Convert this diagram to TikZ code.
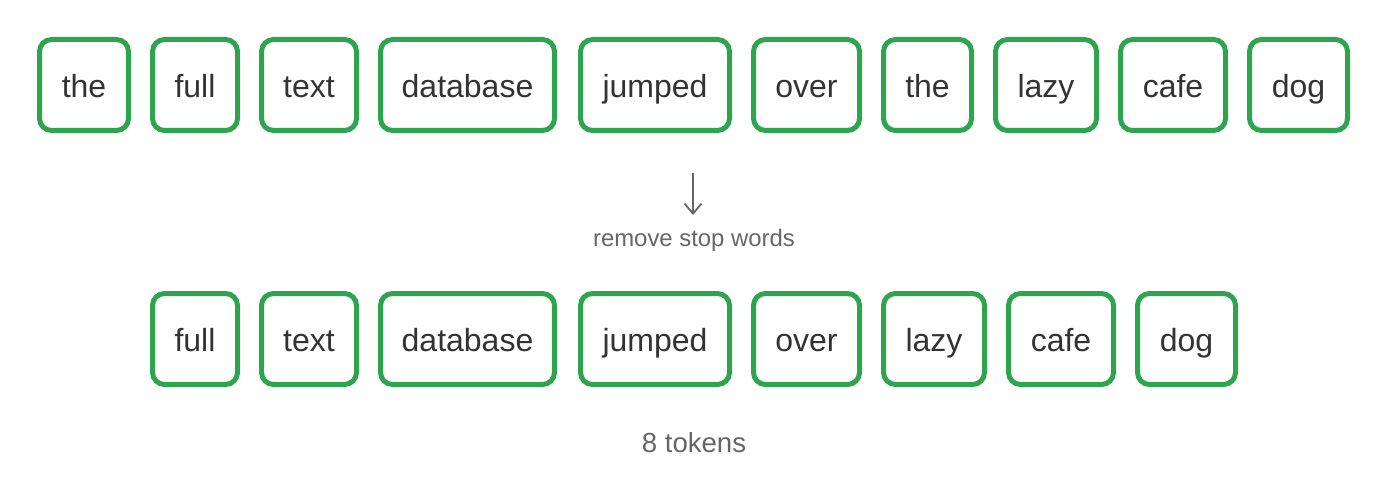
\documentclass[tikz,border=0pt]{standalone}
\usepackage{fontspec}
\setmainfont{Liberation Sans}
\usetikzlibrary{arrows.meta}
\definecolor{tokgreen}{RGB}{46,164,79}
\definecolor{tokink}{RGB}{51,51,51}
\definecolor{notegray}{RGB}{102,102,102}
\tikzset{
  tok/.style={draw=tokgreen, line width=5pt, rounded corners=12pt, fill=white,
    minimum height=91pt, inner sep=0pt, text=tokink,
    text height=25pt, text depth=0pt,
    font=\fontsize{32}{38}\selectfont},
  note/.style={text=notegray, inner sep=0pt, anchor=base},
}
\begin{document}
\begin{tikzpicture}[x=1pt,y=-1pt]
  \useasboundingbox (0,0) rectangle (1392,484);
  % input tokens
  \node[tok, minimum width=89pt]  (a1)  at (84,85)     {the};
  \node[tok, minimum width=85pt]  (a2)  at (195,85)    {full};
  \node[tok, minimum width=95pt]  (a3)  at (309,85)    {text};
  \node[tok, minimum width=174pt] (a4)  at (467.5,85)  {database};
  \node[tok, minimum width=149pt] (a5)  at (655,85)    {jumped};
  \node[tok, minimum width=106pt] (a6)  at (806.5,85)  {over};
  \node[tok, minimum width=88pt]  (a7)  at (927.5,85)  {the};
  \node[tok, minimum width=101pt] (a8)  at (1046,85)   {lazy};
  \node[tok, minimum width=105pt] (a9)  at (1173,85)   {cafe};
  \node[tok, minimum width=98pt]  (a10) at (1298.5,85) {dog};
  % transformation step
  \coordinate (s0) at (693,173);
  \coordinate (s1) at (693,215);
  \draw[notegray, line width=1.8pt, -{Straight Barb[length=10pt,width=17pt]}] (s0) -- (s1);
  \node[note, font=\fontsize{23.9}{28}\selectfont] (step) at (694,246.5) {remove stop words};
  % output tokens
  \node[tok, minimum width=85pt]  (b1) at (195,339)    {full};
  \node[tok, minimum width=95pt]  (b2) at (309,339)    {text};
  \node[tok, minimum width=174pt] (b3) at (467.5,339)  {database};
  \node[tok, minimum width=149pt] (b4) at (655,339)    {jumped};
  \node[tok, minimum width=106pt] (b5) at (806.5,339)  {over};
  \node[tok, minimum width=101pt] (b6) at (934,339)    {lazy};
  \node[tok, minimum width=105pt] (b7) at (1061,339)   {cafe};
  \node[tok, minimum width=98pt]  (b8) at (1186.5,339) {dog};
  \node[note, font=\fontsize{27.6}{33}\selectfont] (count) at (694,452) {8 tokens};
\end{tikzpicture}
\end{document}
